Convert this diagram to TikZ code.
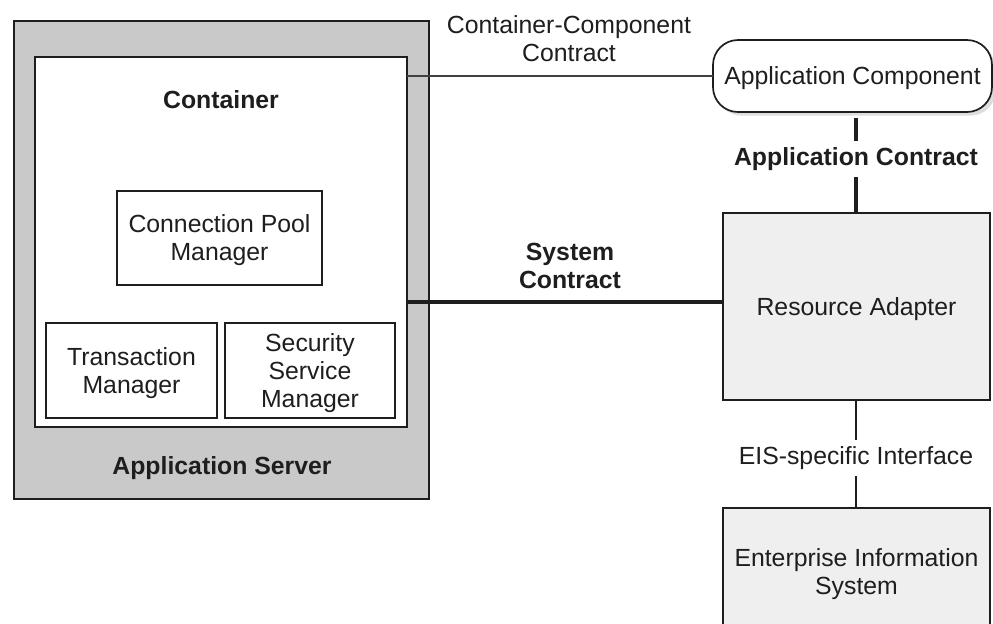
\documentclass[tikz,border=0pt]{standalone}
\usepackage{fontspec}
\setmainfont{Liberation Sans}
\usetikzlibrary{shadows}
\definecolor{srvgray}{HTML}{C9C9C9}
\definecolor{ragray}{HTML}{EFEFEF}
\definecolor{ink}{HTML}{1E1E1E}
\tikzset{
  box/.style={draw=ink, line width=0.85pt, rectangle, align=center, inner sep=0pt, outer sep=0pt, text depth=-0.6pt},
  lbl/.style={align=center, inner sep=0pt, text=ink},
  thinline/.style={draw=ink, line width=0.7pt},
  thickline/.style={draw=ink, line width=1.6pt},
}
\begin{document}
\begin{tikzpicture}[x=0.5pt, y=-0.5pt, font=\fontsize{12.4}{14}\selectfont, text=ink]
\clip (0,0) rectangle (993,623);
\fill[white] (0,0) rectangle (993,623);
% application server and container
\node[box, fill=srvgray, minimum width=207.5pt, minimum height=239pt] (server) at (221.5,260) {};
\node[box, fill=white, minimum width=186pt, minimum height=185pt] (container) at (221,242) {};
\node[lbl, font=\fontsize{12.4}{14}\selectfont\bfseries] (containerlbl) at (221,100) {Container};
\node[lbl, font=\fontsize{12.4}{14}\selectfont\bfseries] (serverlbl) at (222,468) {Application Server};
\node[box, fill=white, minimum width=102.5pt, minimum height=47pt] (cpm) at (219.5,238) {Connection Pool\\Manager};
\node[box, fill=white, minimum width=85.5pt, minimum height=47.5pt] (tm) at (131.5,370.5) {Transaction\\Manager};
\node[box, fill=white, minimum width=85pt, minimum height=47.5pt] (ssm) at (310,370.5) {Security\\Service\\Manager};
% application component
\node[box, fill=white, rounded corners=12.5pt, minimum width=139.5pt, minimum height=36pt,
      drop shadow={shadow xshift=1.8pt, shadow yshift=-1.8pt, fill=gray!50}] (appcomp) at (852.5,76) {Application Component};
% resource adapter and EIS
\node[box, fill=ragray, minimum width=133.5pt, minimum height=93.5pt] (ra) at (856.5,306.5) {Resource Adapter};
\node[box, fill=ragray, minimum width=133.5pt, minimum height=64pt] (eis) at (856.5,572) {Enterprise Information\\System};
% labels
\node[lbl] (cclbl) at (569,39) {Container-Component\\Contract};
\node[lbl, font=\fontsize{12.4}{14}\selectfont\bfseries, minimum height=18pt] (aclbl) at (856,159) {Application Contract};
\node[lbl, font=\fontsize{12.4}{14}\selectfont\bfseries] (sclbl) at (570,266) {System\\Contract};
\node[lbl, minimum height=17.5pt] (eislbl) at (856,458) {EIS-specific Interface};
\coordinate (sysy) at (0,302);
% connectors
\draw[draw=ink!85, line width=1pt] (container.east |- appcomp.west) -- (appcomp.west);
\draw[thickline] (container.east |- sysy) -- (ra.west |- sysy);
\draw[thickline] ([yshift=-3pt]appcomp.south -| aclbl.north) -- (aclbl.north);
\draw[thickline] (aclbl.south) -- (ra.north -| aclbl.south);
\draw[thinline] (ra.south -| eislbl.north) -- (eislbl.north);
\draw[thinline] (eislbl.south) -- (eis.north -| eislbl.south);
\end{tikzpicture}
\end{document}
